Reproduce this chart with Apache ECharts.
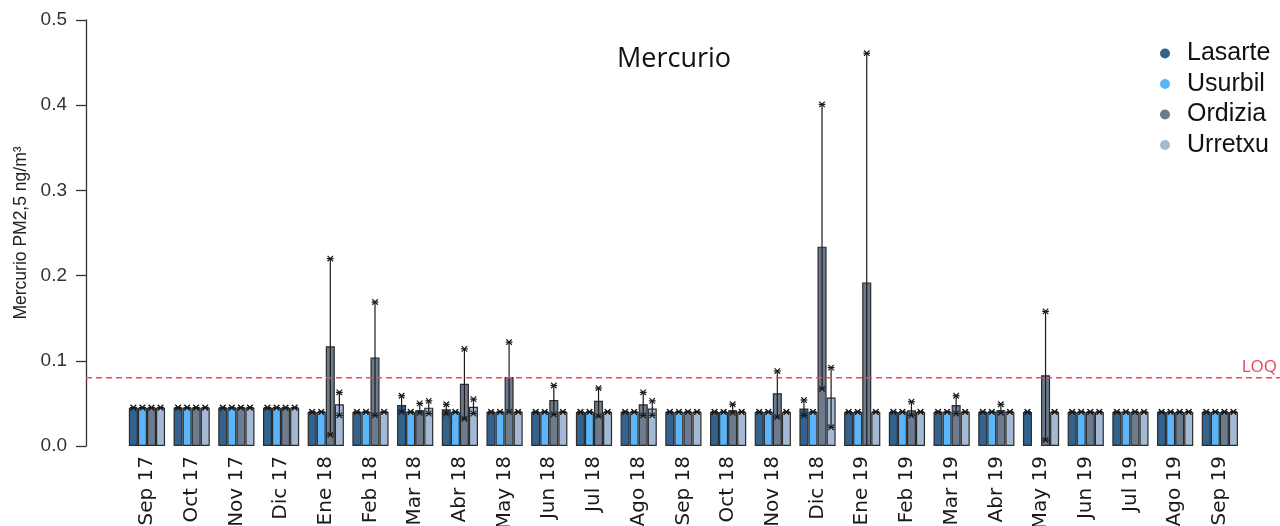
<!DOCTYPE html>
<html>
<head>
<meta charset="utf-8">
<script src="https://cdn.jsdelivr.net/npm/echarts@6/dist/echarts.min.js"></script>
<style>html,body{margin:0;padding:0;background:#fff;}#c{width:1280px;height:526px;}</style>
</head>
<body>
<div id="c"></div>
<script>
// ---- data ----
const categories = ['Sep 17','Oct 17','Nov 17','Dic 17','Ene 18','Feb 18','Mar 18','Abr 18','May 18','Jun 18','Jul 18','Ago 18','Sep 18','Oct 18','Nov 18','Dic 18','Ene 19','Feb 19','Mar 19','Abr 19','May 19','Jun 19','Jul 19','Ago 19','Sep 19'];
const stations = ['Lasarte','Usurbil','Ordizia','Urretxu'];

const lasarte   = [0.045,0.045,0.045,0.045,0.040,0.040,0.048,0.043,0.040,0.040,0.040,0.040,0.040,0.040,0.040,0.044,0.040,0.040,0.040,0.040,0.040,0.040,0.040,0.040,0.040];
const lasarteLo = [0.045,0.045,0.045,0.045,0.040,0.040,0.040,0.038,0.040,0.040,0.040,0.040,0.040,0.040,0.040,0.036,0.040,0.040,0.040,0.040,0.040,0.040,0.040,0.040,0.040];
const lasarteHi = [0.045,0.045,0.045,0.045,0.040,0.040,0.059,0.049,0.040,0.040,0.040,0.040,0.040,0.040,0.040,0.054,0.040,0.040,0.040,0.040,0.040,0.040,0.040,0.040,0.040];

const usurbil   = [0.045,0.045,0.045,0.045,0.040,0.040,0.040,0.040,0.040,0.040,0.040,0.040,0.040,0.040,0.040,0.040,0.040,0.040,0.040,0.040,null,0.040,0.040,0.040,0.040];
const usurbilLo = [0.045,0.045,0.045,0.045,0.040,0.040,0.040,0.040,0.040,0.040,0.040,0.040,0.040,0.040,0.040,0.040,0.040,0.040,0.040,0.040,null,0.040,0.040,0.040,0.040];
const usurbilHi = [0.045,0.045,0.045,0.045,0.040,0.040,0.040,0.040,0.040,0.040,0.040,0.040,0.040,0.040,0.040,0.040,0.040,0.040,0.040,0.040,null,0.040,0.040,0.040,0.040];

const ordizia   = [0.045,0.045,0.045,0.045,0.117,0.104,0.042,0.073,0.081,0.054,0.053,0.049,0.040,0.042,0.062,0.234,0.192,0.042,0.048,0.042,0.083,0.040,0.040,0.040,0.040];
const ordiziaLo = [0.045,0.045,0.045,0.045,0.013,0.036,0.039,0.032,0.040,0.037,0.035,0.036,0.040,0.039,0.034,0.067,0.000,0.036,0.038,0.039,0.007,0.040,0.040,0.040,0.040];
const ordiziaHi = [0.045,0.045,0.045,0.045,0.220,0.169,0.050,0.114,0.122,0.071,0.068,0.063,0.040,0.049,0.088,0.401,0.461,0.052,0.059,0.049,0.158,0.040,0.040,0.040,0.040];

const urretxu   = [0.045,0.045,0.045,0.045,0.049,0.040,0.045,0.046,0.040,0.040,0.040,0.044,0.040,0.040,0.040,0.057,0.040,0.040,0.040,0.040,0.040,0.040,0.040,0.040,0.040];
const urretxuLo = [0.045,0.045,0.045,0.045,0.036,0.040,0.038,0.038,0.040,0.040,0.040,0.036,0.040,0.040,0.040,0.022,0.040,0.040,0.040,0.040,0.040,0.040,0.040,0.040,0.040];
const urretxuHi = [0.045,0.045,0.045,0.045,0.063,0.040,0.053,0.055,0.040,0.040,0.040,0.053,0.040,0.040,0.040,0.092,0.040,0.040,0.040,0.040,0.040,0.040,0.040,0.040,0.040];

const yTicks = [0, 0.1, 0.2, 0.3, 0.4, 0.5];
const LOQ = 0.08;

// ---- styling / layout ----
const colors = ['#33628f','#5ab5fa','#6c7b8e','#a3b9d4'];
const values = [lasarte, usurbil, ordizia, urretxu];
const los = [lasarteLo, usurbilLo, ordiziaLo, urretxuLo];
const his = [lasarteHi, usurbilHi, ordiziaHi, urretxuHi];
const GRID_LEFT = 124.6, GRID_RIGHT = 37.8, GRID_TOP = 20, GRID_BOTTOM = 80;
const Y_OFFSET = 38.6;
const CAT_GAP = 0.19;

function errSeries(k) {
  const data = categories.map((c, i) => his[k][i] == null ? [i, null, null] : [i, los[k][i], his[k][i]]);
  return {
    type: 'custom',
    name: 'err' + k,
    z: 5,
    clip: false,
    data: data,
    encode: { x: 0, y: [1, 2] },
    renderItem: function (params, api) {
      const lo = api.value(1), hi = api.value(2);
      if (lo == null || isNaN(lo) || hi == null || isNaN(hi)) return;
      const i = api.value(0);
      const band = api.size([1, 0])[0];
      const bw = band * (1 - CAT_GAP) / 4;
      const pHi = api.coord([i, hi]);
      const pLo = api.coord([i, lo]);
      const x = pHi[0] + (k - 1.5) * bw;
      const st = { stroke: '#1a1a1a', lineWidth: 1.2 };
      const r = 3.4;
      function star(y) {
        return [
          { type: 'line', shape: { x1: x - r, y1: y, x2: x + r, y2: y }, style: st },
          { type: 'line', shape: { x1: x - r * 0.8, y1: y - r * 0.8, x2: x + r * 0.8, y2: y + r * 0.8 }, style: st },
          { type: 'line', shape: { x1: x - r * 0.8, y1: y + r * 0.8, x2: x + r * 0.8, y2: y - r * 0.8 }, style: st }
        ];
      }
      let children = [
        { type: 'line', shape: { x1: x, y1: pLo[1], x2: x, y2: pHi[1] }, style: st }
      ];
      children = children.concat(star(pHi[1]));
      if (lo > 0) children = children.concat(star(pLo[1]));
      return { type: 'group', children: children };
    }
  };
}

const barSeries = stations.map((s, k) => ({
  type: 'bar',
  name: s,
  data: values[k],
  barGap: '0%',
  barCategoryGap: (CAT_GAP * 100) + '%',
  itemStyle: { color: colors[k], borderColor: '#2b2b2b', borderWidth: 1.2 },
  emphasis: { disabled: true }
}));

const chart = echarts.init(document.getElementById('c'), null, { renderer: 'canvas' });
chart.setOption({
  animation: false,
  backgroundColor: '#ffffff',
  title: {
    text: 'Mercurio',
    left: 612, top: 41,
    textStyle: { fontFamily: 'Open Sans', fontSize: 27, fontWeight: 'normal', color: '#111' }
  },
  legend: {
    data: stations,
    orient: 'vertical',
    left: 1155, top: 36,
    icon: 'circle',
    itemWidth: 34, itemHeight: 10,
    itemGap: 5.5,
    itemStyle: { borderWidth: 0 },
    textStyle: { fontFamily: 'Liberation Sans', fontSize: 25, color: '#111', lineHeight: 25 },
    selectedMode: false
  },
  grid: { left: GRID_LEFT, right: GRID_RIGHT, top: GRID_TOP, bottom: GRID_BOTTOM, containLabel: false, outerBoundsMode: 'none' },
  xAxis: {
    type: 'category',
    data: categories,
    axisLine: { show: false },
    axisTick: { show: false },
    axisLabel: { rotate: 90, interval: 0, margin: 10, fontFamily: 'DejaVu Sans', fontSize: 20, color: '#1a1a1a' }
  },
  yAxis: {
    type: 'value',
    min: yTicks[0], max: yTicks[yTicks.length - 1], interval: 0.1,
    offset: Y_OFFSET,
    name: 'Mercurio PM2,5 ng/m³',
    nameLocation: 'middle',
    nameGap: 56,
    nameTextStyle: { fontFamily: 'Liberation Sans', fontSize: 17.5, color: '#222' },
    axisLine: { show: true, lineStyle: { color: '#333', width: 1.3 } },
    axisTick: { show: true, length: 10, lineStyle: { color: '#333', width: 1.3 } },
    axisLabel: { margin: 19, fontFamily: 'Liberation Sans', fontSize: 19, color: '#333', formatter: v => v.toFixed(1) },
    splitLine: { show: false }
  },
  series: barSeries.concat(stations.map((s, k) => errSeries(k)))
});

// LOQ line drawn across full width using the y scale
const yLoq = chart.convertToPixel({ yAxisIndex: 0 }, LOQ);
const axisX = GRID_LEFT - Y_OFFSET;
chart.setOption({
  graphic: [
    { type: 'line', z: 10, shape: { x1: axisX, y1: yLoq, x2: 1280, y2: yLoq },
      style: { stroke: '#ff4646', lineWidth: 1.5, lineDash: [6, 4] } },
    { type: 'text', z: 10, x: 1277, y: yLoq - 2,
      style: { text: 'LOQ', fill: '#f0405a', font: '17px "Open Sans"', textAlign: 'right', textVerticalAlign: 'bottom' } }
  ]
});
</script>
</body>
</html>
